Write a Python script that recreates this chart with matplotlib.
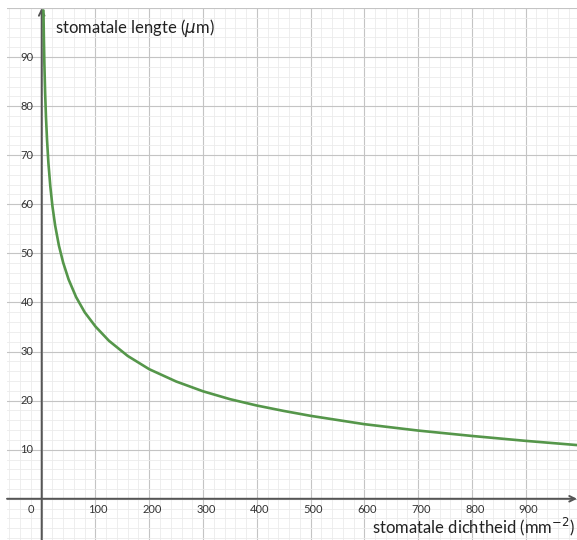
import numpy as np
import matplotlib
matplotlib.use('Agg')
import matplotlib.pyplot as plt
from matplotlib.ticker import MultipleLocator

# waarden
dichtheid = [3.3, 4, 5, 6.4, 8, 10, 12.5, 16, 20, 25, 32, 40, 50, 64, 80, 100,
             125, 160, 200, 250, 300, 350, 400, 450, 500, 600, 700, 800, 900, 1000]
lengte = [99.5, 94.3, 88.6, 82.7, 77.7, 73.0, 68.4, 63.7, 59.6, 55.7, 51.6, 48.1,
          44.7, 41.1, 38.0, 35.1, 32.2, 29.1, 26.4, 23.9, 21.9, 20.3, 19.0, 17.9,
          16.9, 15.2, 13.9, 12.8, 11.8, 10.9]

x_ticks = [100, 200, 300, 400, 500, 600, 700, 800, 900]
y_ticks = [10, 20, 30, 40, 50, 60, 70, 80, 90]

plt.rcParams['font.family'] = ['Lato', 'DejaVu Sans']

fig = plt.figure(figsize=(5.77, 5.40), dpi=100)
ax = fig.add_axes([7 / 577, 0, 570 / 577, 532 / 540])
ax.set_xlim(-64.5, 995.4)
ax.set_ylim(-8.4, 100)

ax.xaxis.set_major_locator(MultipleLocator(100))
ax.xaxis.set_minor_locator(MultipleLocator(20))
ax.yaxis.set_major_locator(MultipleLocator(10))
ax.yaxis.set_minor_locator(MultipleLocator(2))
ax.grid(which='major', color='#c4c4c4', lw=0.8)
ax.grid(which='minor', color='#ebebeb', lw=0.6)
ax.set_axisbelow(True)
ax.tick_params(which='both', length=0, labelbottom=False, labelleft=False)
for s in ax.spines.values():
    s.set_visible(False)

axis_col = '#555555'
ax.annotate('', xy=(0, 100), xytext=(0, -8.4), annotation_clip=False,
            arrowprops=dict(arrowstyle='->', color=axis_col, lw=1.4, shrinkA=0, shrinkB=0))
ax.annotate('', xy=(995.4, 0), xytext=(-64.5, 0), annotation_clip=False,
            arrowprops=dict(arrowstyle='->', color=axis_col, lw=1.4, shrinkA=0, shrinkB=0))

ax.plot(dichtheid, lengte, color='#55964a', lw=1.9, solid_capstyle='round',
        solid_joinstyle='round', zorder=3)

for v in y_ticks:
    ax.annotate(str(v), xy=(0, v), xytext=(-6, 0), textcoords='offset points',
                ha='right', va='center', fontsize=8, color='#333333')
for v in x_ticks:
    ax.annotate(str(v), xy=(v, 0), xytext=(2, -8), textcoords='offset points',
                ha='center', va='center', fontsize=8, color='#333333')
ax.annotate('0', xy=(0, 0), xytext=(-8, -8), textcoords='offset points',
            ha='center', va='center', fontsize=8, color='#333333')

ax.text(48 / 570, 1 - 20 / 532, r'stomatale lengte ($\mu$m)', transform=ax.transAxes,
        ha='left', va='center', fontsize=12, color='#222222')
ax.text(568 / 570, 13 / 532, r'stomatale dichtheid (mm$^{-2}$)', transform=ax.transAxes,
        ha='right', va='center', fontsize=12, color='#222222')

fig.savefig('out.png', dpi=100)
